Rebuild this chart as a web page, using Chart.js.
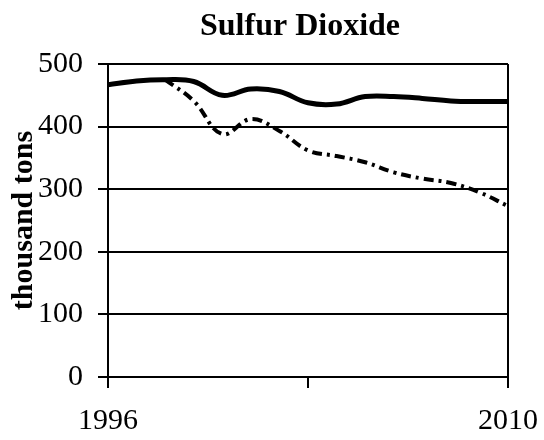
<!DOCTYPE html>
<html>
<head>
<meta charset="utf-8">
<script src="https://cdn.jsdelivr.net/npm/chart.js@4/dist/chart.umd.min.js"></script>
<style>
  html, body { margin: 0; padding: 0; background: #fff; }
  #wrap { width: 544px; height: 440px; position: relative; }
</style>
</head>
<body>
<div id="wrap"><canvas id="c"></canvas></div>
<script>
// Sulfur dioxide emissions, thousand tons
const years   = [1996, 1997, 1998, 1999, 2000, 2001, 2002, 2003, 2004, 2005, 2006, 2007, 2008, 2009, 2010];
const upper   = [467, 473, 475, 472, 450, 460, 456, 438, 436, 448, 448, 445, 441, 440, 440];
const lower   = [null, null, 475, 441, 388, 412, 393, 362, 353, 343, 327, 317, 310, 295, 273];
const yTicks  = [0, 100, 200, 300, 400, 500];
const xLabels = [1996, 2010];

const serif = '"Liberation Serif", "Times New Roman", serif';
const black = '#000';

const toPoints = vals => years.map((yr, i) => ({ x: yr, y: vals[i] }));

// title is centred over the plot area, not the whole canvas
const titlePlugin = {
    id: 'plotTitle',
    afterDraw(chart) {
        const { ctx, chartArea } = chart;
        ctx.save();
        ctx.font = 'bold 32px ' + serif;
        ctx.fillStyle = black;
        ctx.textAlign = 'center';
        ctx.textBaseline = 'alphabetic';
        ctx.fillText('Sulfur Dioxide', (chartArea.left + chartArea.right) / 2 - 8, 35);
        ctx.restore();
    }
};

new Chart(document.getElementById('c'), {
    type: 'line',
    data: {
        datasets: [
            {
                label: 'upper',
                data: toPoints(upper),
                borderColor: black,
                borderWidth: 5,
                pointRadius: 0,
                tension: 0.4,
                fill: false
            },
            {
                label: 'lower',
                data: toPoints(lower),
                borderColor: black,
                borderWidth: 4,
                borderDash: [10, 5, 3, 5],
                pointRadius: 0,
                tension: 0.4,
                fill: false,
                spanGaps: false
            }
        ]
    },
    options: {
        responsive: true,
        maintainAspectRatio: false,
        animation: false,
        layout: { padding: { top: 64, right: 0, left: 0, bottom: 0 } },
        plugins: {
            legend: { display: false },
            tooltip: { enabled: false }
        },
        scales: {
            x: {
                type: 'linear',
                min: 1996,
                max: 2010,
                afterBuildTicks(axis) {
                    axis.ticks = [1996, 2003, 2010].map(v => ({ value: v }));
                },
                afterFit(scale) {
                    scale.height = 63;
                    scale.paddingLeft = 0;
                    scale.paddingRight = 36;
                },
                ticks: {
                    color: black,
                    font: { family: serif, size: 30 },
                    padding: 15,
                    maxRotation: 0,
                    callback: v => xLabels.includes(v) ? String(v) : ''
                },
                grid: {
                    drawOnChartArea: true,
                    color: ctx => ctx.tick && ctx.tick.value === 2010 ? black : 'rgba(0,0,0,0)',
                    tickColor: black,
                    tickLength: 11,
                    lineWidth: 2
                },
                border: { display: true, color: black, width: 2 }
            },
            y: {
                min: 0,
                max: 500,
                afterBuildTicks(axis) {
                    axis.ticks = yTicks.map(v => ({ value: v }));
                },
                afterFit(scale) {
                    scale.width = 108;
                },
                title: {
                    display: true,
                    text: 'thousand tons',
                    color: black,
                    font: { family: serif, size: 30, weight: 'bold' },
                    padding: { top: 6, bottom: 0 }
                },
                ticks: {
                    color: black,
                    font: { family: serif, size: 30 },
                    padding: 15
                },
                grid: {
                    color: black,
                    lineWidth: 2,
                    tickLength: 10
                },
                border: { display: true, color: black, width: 2 }
            }
        }
    },
    plugins: [titlePlugin]
});
</script>
</body>
</html>
